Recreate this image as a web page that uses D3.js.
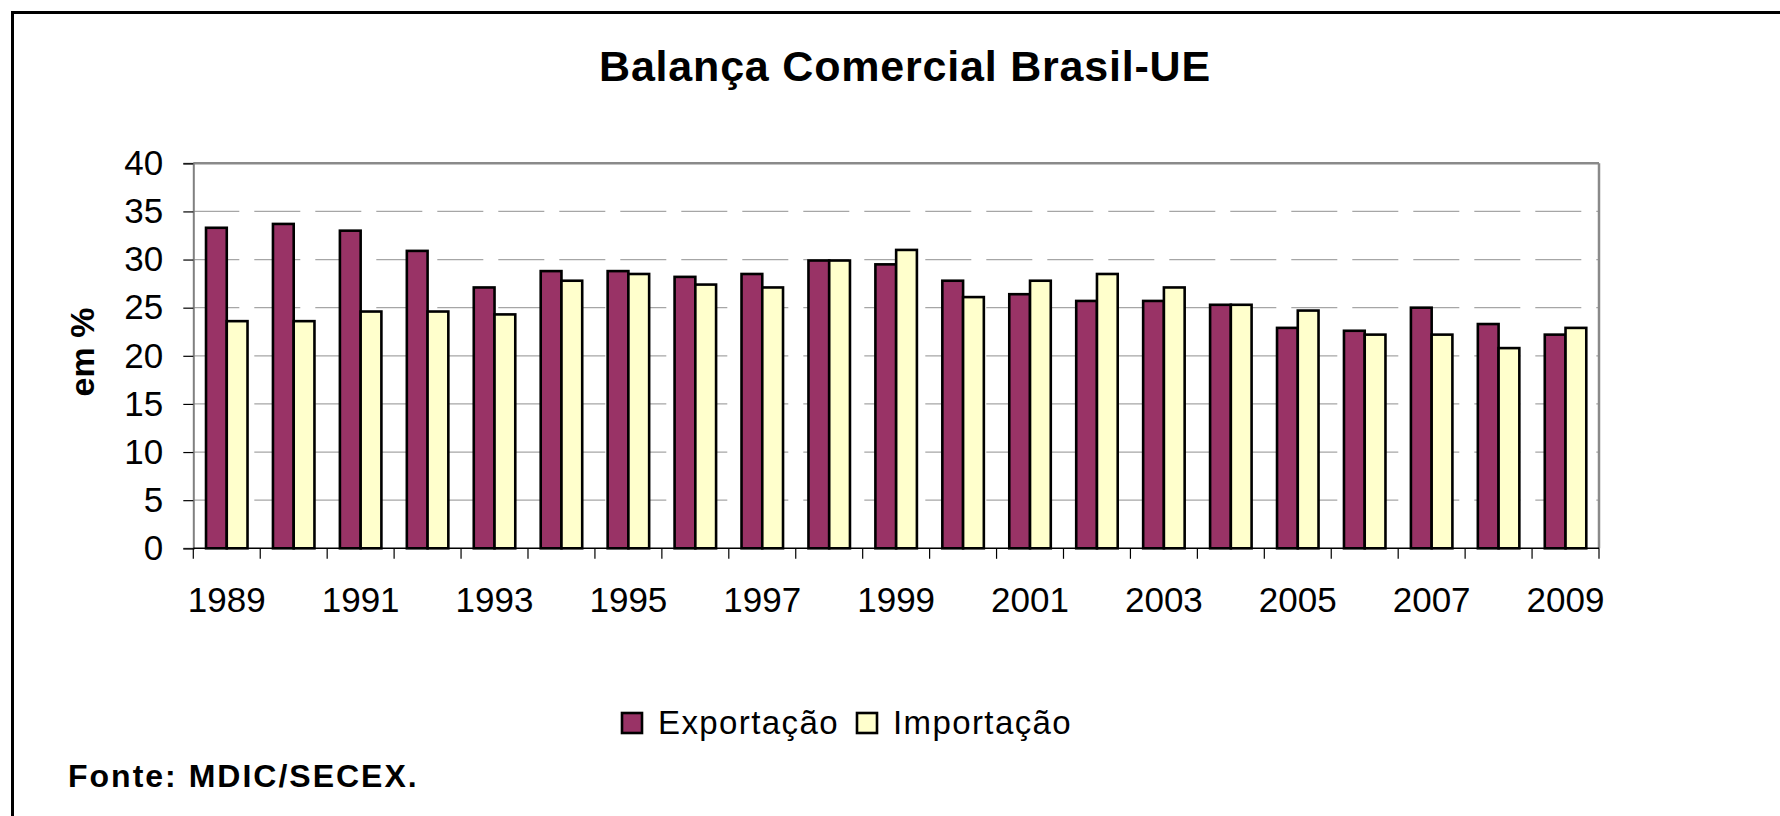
<!DOCTYPE html>
<html>
<head>
<meta charset="utf-8">
<script src="https://cdn.jsdelivr.net/npm/d3@7"></script>
<style>
  html, body { margin: 0; padding: 0; background: #fff; }
  svg { display: block; }
</style>
</head>
<body>
<svg id="chart" width="1780" height="816"></svg>
<script>
const years = [1989,1990,1991,1992,1993,1994,1995,1996,1997,1998,1999,2000,2001,2002,2003,2004,2005,2006,2007,2008,2009];
const exportacao = [33.3,33.7,33.0,30.9,27.1,28.8,28.8,28.2,28.5,29.9,29.5,27.8,26.4,25.7,25.7,25.3,22.9,22.6,25.0,23.3,22.2];
const importacao = [23.6,23.6,24.6,24.6,24.3,27.8,28.5,27.4,27.1,29.9,31.0,26.1,27.8,28.5,27.1,25.3,24.7,22.2,22.2,20.8,22.9];
const yTicks = [0,5,10,15,20,25,30,35,40];
const yearLabels = [1989,1991,1993,1995,1997,1999,2001,2003,2005,2007,2009];
const seriesNames = ["Exportação","Importação"];
const seriesColors = ["#993366","#FFFFCC"];
const titleText = "Balança Comercial Brasil-UE";
const yLabel = "em %";
const sourceText = "Fonte: MDIC/SECEX.";

const FONT = "Arial, 'Liberation Sans', sans-serif";
const svg = d3.select("#chart");

// outer frame
svg.append("rect").attr("x",12.5).attr("y",12.5).attr("width",1850).attr("height",900)
  .attr("fill","none").attr("stroke","#000").attr("stroke-width",3);

const plot = {left:193.3, right:1599, top:163.3, bottom:548.3};

const x = d3.scaleBand().domain(years).range([plot.left, plot.right]).padding(0);
const xInner = d3.scaleBand().domain(seriesNames)
  .range([x.bandwidth()*0.19, x.bandwidth()*0.81]).padding(0);
const y = d3.scaleLinear().domain([0,40]).range([plot.bottom, plot.top]);

// gridlines (dashed)
svg.append("g").selectAll("line").data(yTicks.filter(d => d > 0 && d < 40)).join("line")
  .attr("x1", plot.left).attr("x2", plot.right)
  .attr("y1", d => y(d)).attr("y2", d => y(d))
  .attr("stroke","#a6a6a6").attr("stroke-width",1.3)
  .attr("stroke-dasharray","46,15");

// plot border top & right
svg.append("line").attr("x1",plot.left).attr("x2",plot.right).attr("y1",plot.top).attr("y2",plot.top)
  .attr("stroke","#8a8a8a").attr("stroke-width",2.5);
svg.append("line").attr("x1",plot.right).attr("x2",plot.right).attr("y1",plot.top).attr("y2",plot.bottom)
  .attr("stroke","#8a8a8a").attr("stroke-width",2.5);

// bars
const data = years.map((yr,i) => ({year:yr, vals:[
  {name:seriesNames[0], v:exportacao[i], c:seriesColors[0]},
  {name:seriesNames[1], v:importacao[i], c:seriesColors[1]}]}));

svg.append("g").selectAll("g").data(data).join("g")
  .attr("transform", d => `translate(${x(d.year)},0)`)
  .selectAll("rect").data(d => d.vals).join("rect")
  .attr("x", d => xInner(d.name))
  .attr("width", xInner.bandwidth())
  .attr("y", d => y(d.v))
  .attr("height", d => y(0) - y(d.v))
  .attr("fill", d => d.c)
  .attr("stroke","#000").attr("stroke-width",2.6);

// y axis
const yAxis = svg.append("g").attr("transform",`translate(${plot.left},0)`)
  .call(d3.axisLeft(y).tickValues(yTicks).tickSize(10).tickPadding(20).tickFormat(d3.format("d")));
yAxis.select(".domain").attr("stroke","#808080").attr("stroke-width",2);
yAxis.selectAll(".tick line").attr("stroke","#000").attr("stroke-width",1.2);
yAxis.selectAll("text").attr("font-family",FONT).attr("font-size",35).attr("fill","#000");

// x axis: baseline, boundary ticks, labels
svg.append("line").attr("x1",plot.left).attr("x2",plot.right).attr("y1",plot.bottom).attr("y2",plot.bottom)
  .attr("stroke","#000").attr("stroke-width",1.6);
const bounds = years.map(d => x(d)).concat([x.range()[1]]);
svg.append("g").selectAll("line").data(bounds).join("line")
  .attr("x1", d => d).attr("x2", d => d)
  .attr("y1", plot.bottom).attr("y2", plot.bottom + 10.5)
  .attr("stroke","#000").attr("stroke-width",1.2);

const xAxis = svg.append("g").attr("transform",`translate(0,${plot.bottom})`)
  .call(d3.axisBottom(x).tickValues(yearLabels).tickSize(0).tickFormat(d3.format("d")));
xAxis.select(".domain").remove();
xAxis.selectAll("text").attr("font-family",FONT).attr("font-size",35).attr("fill","#000")
  .attr("y",64).attr("dy",null);

// title
svg.append("text").attr("x",905).attr("y",81).attr("text-anchor","middle")
  .attr("font-family",FONT).attr("font-weight","bold").attr("font-size",43)
  .attr("letter-spacing","0.8px").text(titleText);

// y label
svg.append("text").attr("transform","translate(94,352) rotate(-90)").attr("text-anchor","middle")
  .attr("font-family",FONT).attr("font-weight","bold").attr("font-size",34).text(yLabel);

// legend
const legendPos = [{sx:622, tx:658},{sx:857, tx:893}];
const lg = svg.append("g").selectAll("g").data(seriesNames).join("g");
lg.append("rect").attr("x",(d,i)=>legendPos[i].sx).attr("y",713).attr("width",20).attr("height",20)
  .attr("fill",(d,i)=>seriesColors[i]).attr("stroke","#000").attr("stroke-width",2.6);
lg.append("text").attr("x",(d,i)=>legendPos[i].tx).attr("y",734)
  .attr("font-family",FONT).attr("font-size",33).attr("letter-spacing","1.4px").text(d=>d);

// source
svg.append("text").attr("x",68).attr("y",787)
  .attr("font-family",FONT).attr("font-weight","bold").attr("font-size",32)
  .attr("letter-spacing","2px").text(sourceText);
</script>
</body>
</html>
